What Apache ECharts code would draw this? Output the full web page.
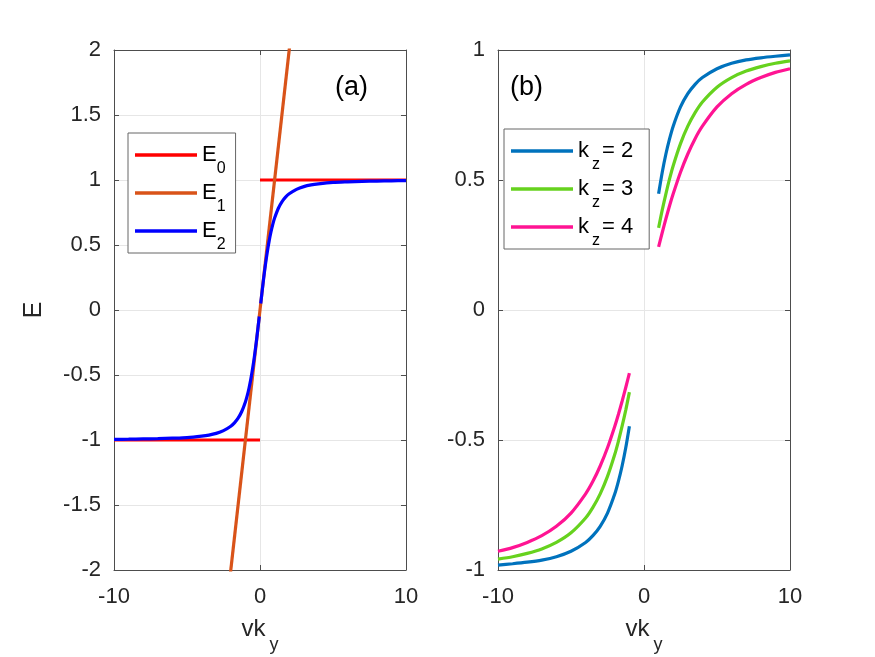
<!DOCTYPE html>
<html>
<head>
<meta charset="utf-8">
<script src="https://cdn.jsdelivr.net/npm/echarts@6/dist/echarts.min.js"></script>
<style>
  html, body { margin: 0; padding: 0; background: #fff; }
  #main { width: 875px; height: 657px; }
</style>
</head>
<body>
<div id="main"></div>
<script>
// (a) 左图数据
var vkNeg = [-10, -9, -8, -7, -6, -5, -4, -3.5, -3, -2.5, -2, -1.75, -1.5, -1.25, -1, -0.875, -0.75, -0.625, -0.5, -0.375, -0.25, -0.125, -0.05];
var e2Neg = [-0.995, -0.994, -0.992, -0.990, -0.986, -0.981, -0.970, -0.962, -0.949, -0.928, -0.894, -0.868, -0.832, -0.781, -0.707, -0.659, -0.600, -0.530, -0.447, -0.351, -0.243, -0.124, -0.05];
var vkPos = [0.05, 0.125, 0.25, 0.375, 0.5, 0.625, 0.75, 0.875, 1, 1.25, 1.5, 1.75, 2, 2.5, 3, 3.5, 4, 5, 6, 7, 8, 9, 10];
var e2Pos = [0.05, 0.124, 0.243, 0.351, 0.447, 0.530, 0.600, 0.659, 0.707, 0.781, 0.832, 0.868, 0.894, 0.928, 0.949, 0.962, 0.970, 0.981, 0.986, 0.990, 0.992, 0.994, 0.995];
var e0Left = [[-10, -1], [0, -1]];
var e0Right = [[0, 1], [10, 1]];
var e1Line = [[-10, -10], [10, 10]];

// (b) 右图数据
var vkUp = [1, 1.25, 1.5, 1.75, 2, 2.5, 3, 3.5, 4, 5, 6, 7, 8, 9, 10];
var vkDown = [-10, -9, -8, -7, -6, -5, -4, -3.5, -3, -2.5, -2, -1.75, -1.5, -1.25, -1];
var kz2Up = [0.447, 0.530, 0.600, 0.658, 0.707, 0.781, 0.832, 0.868, 0.894, 0.928, 0.949, 0.962, 0.970, 0.976, 0.981];
var kz3Up = [0.316, 0.385, 0.447, 0.504, 0.555, 0.640, 0.707, 0.759, 0.800, 0.857, 0.894, 0.919, 0.936, 0.949, 0.958];
var kz4Up = [0.243, 0.298, 0.351, 0.401, 0.447, 0.530, 0.600, 0.659, 0.707, 0.781, 0.832, 0.868, 0.894, 0.914, 0.928];
var kz2Down = [-0.981, -0.976, -0.970, -0.962, -0.949, -0.928, -0.894, -0.868, -0.832, -0.781, -0.707, -0.658, -0.600, -0.530, -0.447];
var kz3Down = [-0.958, -0.949, -0.936, -0.919, -0.894, -0.857, -0.800, -0.759, -0.707, -0.640, -0.555, -0.504, -0.447, -0.385, -0.316];
var kz4Down = [-0.928, -0.914, -0.894, -0.868, -0.832, -0.781, -0.707, -0.659, -0.600, -0.530, -0.447, -0.401, -0.351, -0.298, -0.243];

var xTicks = [-10, 0, 10];
var yTicksA = [-2, -1.5, -1, -0.5, 0, 0.5, 1, 1.5, 2];
var yTicksB = [-1, -0.5, 0, 0.5, 1];

var FONT = 'Liberation Sans, Arial, Helvetica, sans-serif';
var AXIS_COLOR = '#4d4d4d';
var TEXT_COLOR = '#262626';

function pair(xs, ys) {
  var out = [];
  for (var i = 0; i < xs.length; i++) out.push([xs[i], ys[i]]);
  return out;
}
// 两段之间断开
function branches(xa, ya, xb, yb) {
  return pair(xa, ya).concat([[0, '-']]).concat(pair(xb, yb));
}

function xAxisCfg(grid, pos) {
  var main = pos === 'bottom';
  return {
    type: 'value', gridIndex: grid, position: pos,
    min: xTicks[0], max: xTicks[xTicks.length - 1], interval: 10,
    axisLine: { show: true, onZero: false, lineStyle: { color: AXIS_COLOR, width: 1 } },
    axisTick: { show: true, inside: true, length: 5, lineStyle: { color: AXIS_COLOR } },
    axisLabel: { show: main, fontSize: 22, color: TEXT_COLOR, fontFamily: FONT, margin: 16 },
    splitLine: { show: main, lineStyle: { color: '#e6e6e6', width: 1 } },
    name: main ? '{b|vk}{s|y}' : '',
    nameLocation: 'middle', nameGap: 34, nameMoveOverlap: false,
    nameTextStyle: {
      fontFamily: FONT, color: TEXT_COLOR, lineHeight: 50,
      rich: {
        b: { fontSize: 24, lineHeight: 50, fontFamily: FONT, color: TEXT_COLOR },
        s: { fontSize: 18, lineHeight: 2, verticalAlign: 'bottom', fontFamily: FONT, color: TEXT_COLOR, padding: [0, 0, 0, 4] }
      }
    }
  };
}

function yAxisCfg(grid, pos, min, max, name) {
  var main = pos === 'left';
  return {
    type: 'value', gridIndex: grid, position: pos,
    min: min, max: max, interval: 0.5,
    axisLine: { show: true, onZero: false, lineStyle: { color: AXIS_COLOR, width: 1 } },
    axisTick: { show: true, inside: true, length: 5, lineStyle: { color: AXIS_COLOR } },
    axisLabel: { show: main, fontSize: 22, color: TEXT_COLOR, fontFamily: FONT, margin: 13 },
    splitLine: { show: main, lineStyle: { color: '#e6e6e6', width: 1 } },
    name: main ? name : '',
    nameLocation: 'middle', nameRotate: 90, nameGap: 67, nameMoveOverlap: false,
    nameTextStyle: { fontSize: 25, color: TEXT_COLOR, fontFamily: FONT }
  };
}

function lineSeries(name, data, color, xi, yi) {
  return {
    name: name, type: 'line', data: data,
    xAxisIndex: xi, yAxisIndex: yi,
    symbol: 'none', smooth: 0.25,
    connectNulls: false, clip: true,
    lineStyle: { color: color, width: 3.2 },
    itemStyle: { color: color },
    emphasis: { disabled: true },
    animation: false
  };
}

var legendBase = {
  orient: 'vertical', selectedMode: false, icon: 'rect',
  itemWidth: 62, itemHeight: 3.5, itemGap: -6,
  borderColor: '#666', borderWidth: 1, backgroundColor: '#fff'
};

var myChart = echarts.init(document.getElementById('main'), null, { renderer: 'canvas' });

var option = {
  backgroundColor: '#fff',
  animation: false,
  textStyle: { fontFamily: FONT },
  grid: [
    { left: 114, top: 50, width: 292, height: 520, containLabel: false, outerBoundsMode: 'none' },
    { left: 498, top: 50, width: 292, height: 520, containLabel: false, outerBoundsMode: 'none' }
  ],
  xAxis: [xAxisCfg(0, 'bottom'), xAxisCfg(0, 'top'), xAxisCfg(1, 'bottom'), xAxisCfg(1, 'top')],
  yAxis: [
    yAxisCfg(0, 'left', -2, 2, 'E'), yAxisCfg(0, 'right', -2, 2, ''),
    yAxisCfg(1, 'left', -1, 1, ''), yAxisCfg(1, 'right', -1, 1, '')
  ],
  legend: [
    Object.assign({}, legendBase, {
      data: ['E0', 'E1', 'E2'],
      left: 128, top: 133, padding: [0, 10, 0, 7],
      formatter: function (name) { return '{b|E}{s|' + name.slice(1) + '}'; },
      textStyle: {
        lineHeight: 44,
        rich: {
          b: { fontSize: 22, lineHeight: 44, color: '#000', fontFamily: FONT },
          s: { fontSize: 16, lineHeight: 6, verticalAlign: 'bottom', color: '#000', fontFamily: FONT }
        }
      }
    }),
    Object.assign({}, legendBase, {
      data: ['kz2', 'kz3', 'kz4'],
      left: 504, top: 129, padding: [0, 16, 0, 7],
      formatter: function (name) { return '{b|k}{s|z}{b|= ' + name.slice(2) + '}'; },
      textStyle: {
        lineHeight: 44,
        rich: {
          b: { fontSize: 22, lineHeight: 44, color: '#000', fontFamily: FONT },
          s: { fontSize: 16, lineHeight: 6, verticalAlign: 'bottom', color: '#000', fontFamily: FONT, padding: [0, 2, 0, 3] }
        }
      }
    })
  ],
  graphic: [
    { type: 'text', left: 335, top: 74, style: { text: '(a)', fontSize: 27, fill: '#000', fontFamily: FONT } },
    { type: 'text', left: 510, top: 74, style: { text: '(b)', fontSize: 27, fill: '#000', fontFamily: FONT } }
  ],
  series: [
    lineSeries('E0', e0Left.concat([[0, '-']]).concat(e0Right), '#ff0000', 0, 0),
    lineSeries('E1', e1Line, '#d95319', 0, 0),
    lineSeries('E2', branches(vkNeg, e2Neg, vkPos, e2Pos), '#0000ff', 0, 0),
    lineSeries('kz2', branches(vkDown, kz2Down, vkUp, kz2Up), '#0072bd', 2, 2),
    lineSeries('kz3', branches(vkDown, kz3Down, vkUp, kz3Up), '#66d21e', 2, 2),
    lineSeries('kz4', branches(vkDown, kz4Down, vkUp, kz4Up), '#ff1493', 2, 2)
  ]
};

myChart.setOption(option);
</script>
</body>
</html>
